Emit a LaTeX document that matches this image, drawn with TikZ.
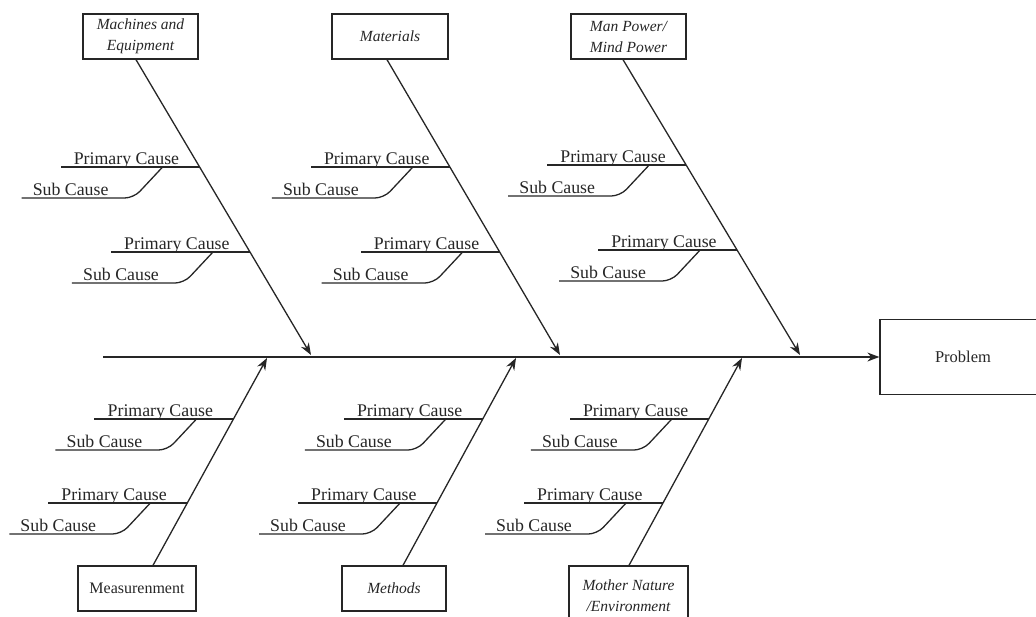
\documentclass[tikz,border=0pt]{standalone}
\usepackage{fontspec}
\setmainfont{Liberation Serif}
\usetikzlibrary{arrows.meta,calc}
\newcommand\fbranch[4]{%
  \coordinate (#4l) at (0,#3);
  \coordinate (#4r) at (1036,#3);
  \coordinate (#4p) at (intersection of #1--#2 and #4l--#4r);
  \draw[ln] (#4p) -- ($(#4p)+(-139,0)$) coordinate (#4pe);
  \node[lab] (#4pt) at ($(#4pe)+(13,-3)$) {Primary Cause};
  \draw[ln, rounded corners=9pt] ($(#4p)+(-37,0)$) coordinate (#4se) -- ($(#4p)+(-66,31)$) -- ($(#4p)+(-178,31)$) coordinate (#4sl);
  \node[lab] (#4st) at ($(#4sl)+(11,-3)$) {Sub Cause};
}
\begin{document}
\begin{tikzpicture}[x=1pt,y=-1pt,
  ln/.style={line width=1.3pt, draw=black!85},
  arr/.style={ln, -{Stealth[length=12pt,width=9pt]}},
  cat/.style={draw=black!85, line width=1.3pt, inner sep=0pt, align=center,
    minimum height=45pt, font=\fontsize{15.5}{21}\selectfont\itshape, text=black!85},
  lab/.style={anchor=base west, inner sep=0pt, font=\fontsize{17.8}{20}\selectfont, text=black!85}]
\useasboundingbox (0,0) rectangle (1036,616);
\clip (0,0) rectangle (1036,616);

% category boxes
\node[cat, minimum width=115pt] (mach) at (140.5,36.5) {Machines and\\Equipment};
\node[cat, minimum width=116pt] (mat)  at (390,36.5) {Materials};
\node[cat, minimum width=115pt] (man)  at (628.5,36.5) {Man Power/\\Mind Power};
\node[cat, minimum width=118pt, font=\fontsize{16}{21}\selectfont] (meas) at (137,588.5) {Measurenment};
\node[cat, minimum width=104pt] (meth) at (394,588.5) {Methods};
\node[cat, minimum width=119pt, minimum height=60pt] (moth) at (628.5,596) {Mother Nature\\/Environment};

% problem
\node[draw=black!85, line width=1.3pt, minimum width=166pt, minimum height=75pt,
  font=\fontsize{16.5}{20}\selectfont, text=black!85] (prob) at (963,357) {Problem};

% spine
\coordinate (sp) at (103,357);
\draw[arr] (sp) -- (prob.west);

% bone ends
\coordinate (ms) at ($(mach.south)+(-4.5,0)$);
\coordinate (mt) at (311,355);
\coordinate (as) at ($(mat.south)+(-3,0)$);
\coordinate (at) at (560,355);
\coordinate (ns) at ($(man.south)+(-5.5,0)$);
\coordinate (nt) at (800,355);
\coordinate (es) at ($(meas.north)+(16,0)$);
\coordinate (et) at (267,358);
\coordinate (hs) at ($(meth.north)+(9,0)$);
\coordinate (ht) at (516,358);
\coordinate (os) at ($(moth.north)+(0.5,0)$);
\coordinate (ot) at (742,358);

% bones
\draw[arr] (ms) -- (mt);
\draw[arr] (as) -- (at);
\draw[arr] (ns) -- (nt);
\draw[arr] (es) -- (et);
\draw[arr] (hs) -- (ht);
\draw[arr] (os) -- (ot);

% branches
\fbranch{ms}{mt}{167}{ma}
\fbranch{ms}{mt}{252}{mb}
\fbranch{as}{at}{167}{aa}
\fbranch{as}{at}{252}{ab}
\fbranch{ns}{nt}{165}{na}
\fbranch{ns}{nt}{250}{nb}
\fbranch{es}{et}{419}{ea}
\fbranch{es}{et}{503}{eb}
\fbranch{hs}{ht}{419}{ha}
\fbranch{hs}{ht}{503}{hb}
\fbranch{os}{ot}{419}{oa}
\fbranch{os}{ot}{503}{ob}
\end{tikzpicture}
\end{document}
